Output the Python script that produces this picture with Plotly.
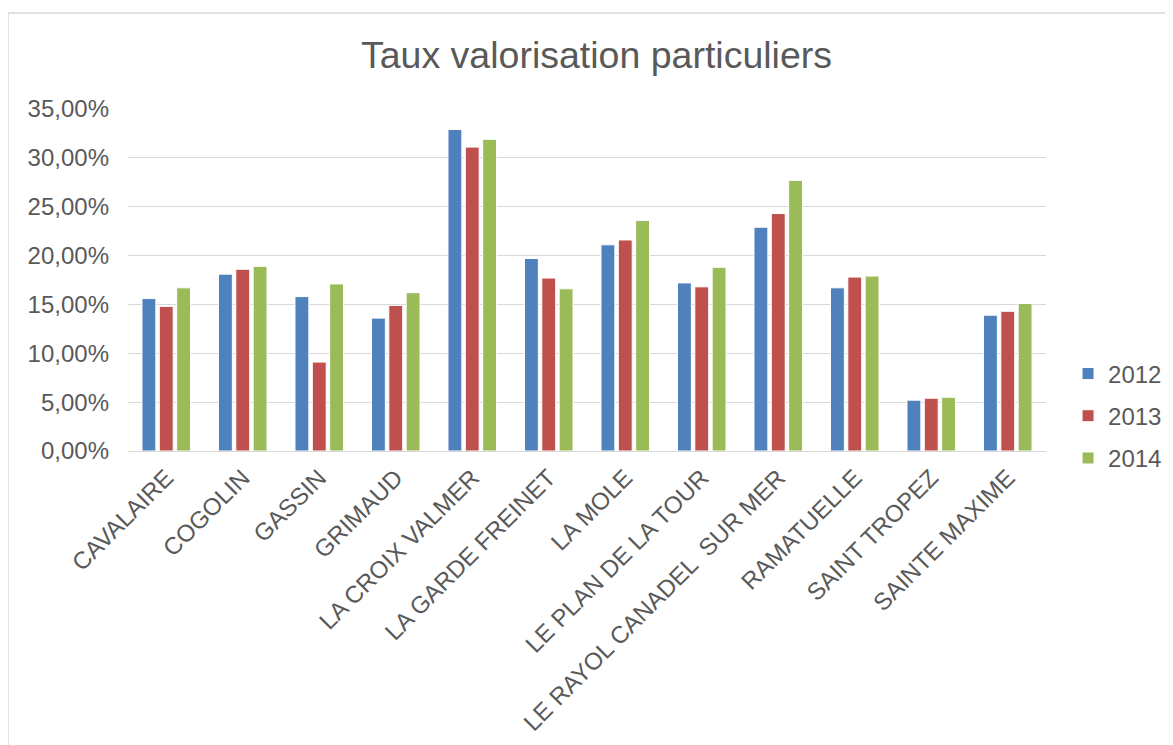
import plotly.graph_objects as go

communes = ["CAVALAIRE", "COGOLIN", "GASSIN", "GRIMAUD", "LA CROIX VALMER",
            "LA GARDE FREINET", "LA MOLE", "LE PLAN DE LA TOUR",
            "LE RAYOL CANADEL  SUR MER", "RAMATUELLE", "SAINT TROPEZ",
            "SAINTE MAXIME"]

# taux en %
taux_2012 = [15.6, 18.1, 15.8, 13.6, 32.9, 19.7, 21.1, 17.2, 22.9, 16.7, 5.2, 13.9]
taux_2013 = [14.8, 18.6, 9.1, 14.9, 31.1, 17.7, 21.6, 16.8, 24.3, 17.8, 5.4, 14.3]
taux_2014 = [16.7, 18.9, 17.1, 16.2, 31.9, 16.6, 23.6, 18.8, 27.7, 17.9, 5.5, 15.1]

years = ["2012", "2013", "2014"]
colors = ["#4F81BD", "#C0504D", "#9BBB59"]

grey = "#595959"
font = "Liberation Sans, Arial, sans-serif"

# plot area (figure px)
L, T, PW, PH = 120, 101, 918, 342

fig = go.Figure()
for name, vals, col in zip(years, [taux_2012, taux_2013, taux_2014], colors):
    fig.add_trace(go.Bar(x=communes, y=vals, name=name, legendgroup=name,
                         marker=dict(color=col, line=dict(color="white", width=1))))

fig.update_layout(
    width=1173, height=745, autosize=False,
    margin=dict(l=L, r=1173 - L - PW, t=T, b=745 - T - PH),
    paper_bgcolor="white", plot_bgcolor="white",
    barmode="group", bargap=0.32, bargroupgap=0.2,
    separators=", ",
    font=dict(family=font, color=grey, size=24),
    title=dict(text="Taux valorisation particuliers", x=0.5017, xanchor="center",
               y=0.937, yanchor="middle", font=dict(size=37.5, color=grey)),
    legend=dict(xref="container", yref="container", x=0.9037, xanchor="left",
                y=0.539, yanchor="top", font=dict(size=24, color=grey),
                tracegroupgap=8, itemwidth=30),
    shapes=[dict(type="rect", xref="paper", yref="paper",
                 x0=(0 - L) / PW, x1=2, y0=-2, y1=(T + PH - 5) / PH,
                 line=dict(color="#D9D9D9", width=1.5), layer="below")],
)

fig.update_yaxes(range=[0, 35], dtick=5, tickformat=".2f", ticksuffix="%",
                 showgrid=True, gridcolor="#D9D9D9", gridwidth=1.3,
                 zeroline=False, showline=False, ticklabelstandoff=18,
                 automargin=False, tickfont=dict(size=24, color=grey))
fig.update_xaxes(tickangle=-45, showline=True, linecolor="#D9D9D9", linewidth=1.3,
                 showgrid=False, ticklabelstandoff=2, automargin=False,
                 tickfont=dict(size=24, color=grey))

fig.write_html("out.html")
